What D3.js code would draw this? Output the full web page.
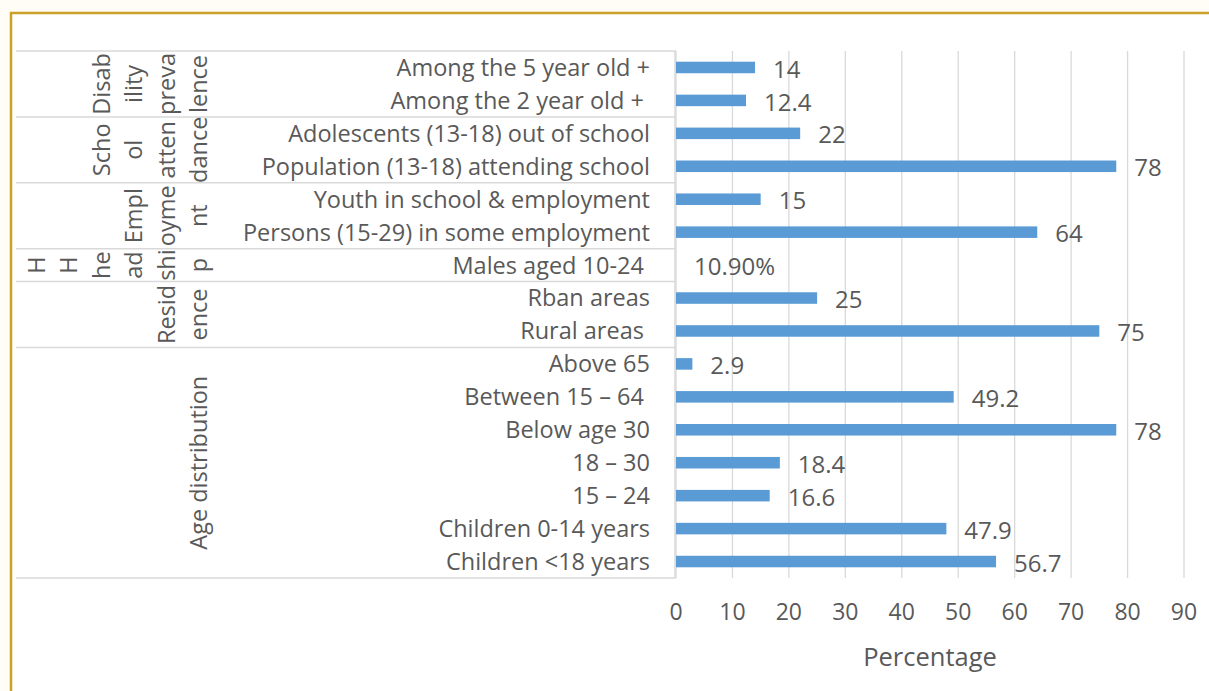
<!DOCTYPE html>
<html>
<head>
<meta charset="utf-8">
<script src="https://cdn.jsdelivr.net/npm/d3@7"></script>
<style>
  body { margin: 0; background: #fffdf6; }
  svg text { font-family: "Open Sans", sans-serif; fill: #595959; white-space: pre; }
</style>
</head>
<body>
<svg id="chart" width="1209" height="691"></svg>
<script>
// categories top to bottom
var categories = [
  "Among the 5 year old +", "Among the 2 year old + ",
  "Adolescents (13-18) out of school", "Population (13-18) attending school",
  "Youth in school & employment", "Persons (15-29) in some employment",
  "Males aged 10-24 ",
  "Rban areas", "Rural areas ",
  "Above 65", "Between 15 \u2013 64 ", "Below age 30", "18 \u2013 30", "15 \u2013 24",
  "Children 0-14 years", "Children <18 years"
];
var values = [14, 12.4, 22, 78, 15, 64, null, 25, 75, 2.9, 49.2, 78, 18.4, 16.6, 47.9, 56.7];
var valueLabels = ["14", "12.4", "22", "78", "15", "64", "10.90%", "25", "75", "2.9", "49.2", "78", "18.4", "16.6", "47.9", "56.7"];

// outer groups (wrapped as Excel shows them)
var groupLines = [
  ["Disab", "ility", "preva", "lence"],
  ["Scho", "ol", "atten", "dance"],
  ["Empl", "oyme", "nt"],
  ["H", "H", "he", "ad", "shi", "p"],
  ["Resid", "ence"],
  ["Age distribution"]
];
var groupSizes = [2, 2, 2, 1, 2, 7];
var xTicks = [0, 10, 20, 30, 40, 50, 60, 70, 80, 90];
var xTitle = "Percentage";

var svg = d3.select('#chart');
var fontSize = 23.5;

// frame
svg.append('rect').attr('x', 11).attr('y', 13).attr('width', 1220).attr('height', 700)
    .attr('fill', '#fff').attr('stroke', '#c9a227').attr('stroke-width', 2.5);

var plotTop = 51, plotBottom = 578, plotLeft = 676, plotRight = 1184;

var x = d3.scaleLinear().domain([0, 90]).range([plotLeft, plotRight]);
var y = d3.scaleBand().domain(d3.range(categories.length)).range([plotTop, plotBottom])
    .paddingInner(0.65).paddingOuter(0.325);
var step = y.step();

// gridlines
svg.append('g').selectAll('line').data(xTicks).enter().append('line')
    .attr('x1', d => x(d)).attr('x2', d => x(d))
    .attr('y1', plotTop).attr('y2', plotBottom)
    .attr('stroke', '#d9d9d9').attr('stroke-width', 1.3);

// group dividers
var bounds = [0];
groupSizes.forEach(function (n, i) { bounds.push(bounds[i] + n); });
svg.append('g').selectAll('line').data(bounds).enter().append('line')
    .attr('x1', 16).attr('x2', plotLeft)
    .attr('y1', d => plotTop + d * step).attr('y2', d => plotTop + d * step)
    .attr('stroke', '#d9d9d9').attr('stroke-width', 1.5);
svg.append('line').attr('x1', plotLeft - 1).attr('x2', plotLeft - 1)
    .attr('y1', plotTop).attr('y2', plotBottom)
    .attr('stroke', '#d9d9d9').attr('stroke-width', 1.5);

// bars
var rows = values.map((v, i) => ({ i: i, v: v, label: valueLabels[i] }));
svg.append('g').selectAll('rect').data(rows.filter(d => d.v != null)).enter().append('rect')
    .attr('x', x(0))
    .attr('y', d => y(d.i))
    .attr('width', d => x(d.v) - x(0))
    .attr('height', y.bandwidth())
    .attr('fill', '#5b9bd5');

// value labels
svg.append('g').selectAll('text').data(rows).enter().append('text')
    .attr('x', d => x(d.v || 0) + 18)
    .attr('y', d => y(d.i) + y.bandwidth() / 2 + 1.5)
    .attr('dy', '0.36em')
    .style('font-size', '24px')
    .text(d => d.label);

// category labels
svg.append('g').selectAll('text').data(categories).enter().append('text')
    .attr('x', 650)
    .attr('y', (d, i) => y(i) + y.bandwidth() / 2)
    .attr('dy', '0.36em')
    .attr('text-anchor', 'end')
    .style('font-size', fontSize + 'px')
    .text(d => d);

// group labels, rotated
groupLines.forEach(function (lines, g) {
    var cy = plotTop + (bounds[g] + groupSizes[g] / 2) * step;
    lines.forEach(function (line, k) {
        var bx = 207 - 32.4 * (lines.length - 1 - k);
        svg.append('text')
            .attr('transform', 'translate(' + bx + ',' + cy + ') rotate(-90)')
            .attr('text-anchor', 'middle')
            .style('font-size', fontSize + 'px')
            .text(line);
    });
});

// x axis labels
svg.append('g').selectAll('text').data(xTicks).enter().append('text')
    .attr('x', d => x(d)).attr('y', 620)
    .attr('text-anchor', 'middle')
    .style('font-size', '23px')
    .text(d => d);

svg.append('text').attr('x', (plotLeft + plotRight) / 2).attr('y', 666)
    .attr('text-anchor', 'middle').style('font-size', '25.5px').text(xTitle);
</script>
</body>
</html>
